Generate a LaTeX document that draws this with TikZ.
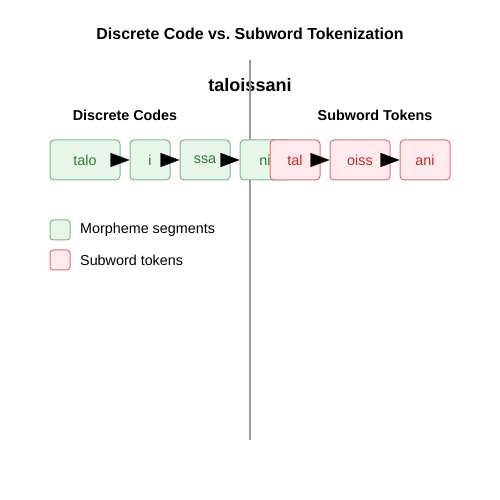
\documentclass[tikz,border=0pt]{standalone}
\usepackage{fontspec}
\setmainfont{Liberation Sans}
\usetikzlibrary{arrows.meta}
\definecolor{segtext}{HTML}{2E7D32}
\definecolor{segfill}{HTML}{E8F5E9}
\definecolor{segdraw}{HTML}{81B882}
\definecolor{toktext}{HTML}{C62828}
\definecolor{tokfill}{HTML}{FFEBEE}
\definecolor{tokdraw}{HTML}{E07070}
\frenchspacing
\begin{document}
\begin{tikzpicture}[>={Triangle[length=19bp,width=14bp]},line join=bevel,
  seg/.style={draw=segdraw,fill=segfill,text=segtext,rounded corners=4bp,line width=1bp,minimum height=40bp,inner sep=0pt,font=\fontsize{14.4}{17}\selectfont},
  tok/.style={draw=tokdraw,fill=tokfill,text=toktext,rounded corners=4bp,line width=1bp,minimum height=40bp,inner sep=0pt,font=\fontsize{14.4}{17}\selectfont},
  key/.style={rounded corners=3bp,line width=1bp,minimum width=20bp,minimum height=20bp,inner sep=0pt},
  lbl/.style={font=\fontsize{14.4}{17}\selectfont},
]
%%
\useasboundingbox (0bp,0bp) rectangle (500bp,500bp);
\node (title) at (250bp,466bp) {\fontsize{16}{19}\selectfont\bfseries Discrete Code vs. Subword Tokenization};
  \node (word) at (250bp,415bp) {\fontsize{18.1}{22}\selectfont\bfseries taloissani};
  \node (head_codes) at (125bp,385bp) {\fontsize{14.4}{17}\selectfont\bfseries Discrete Codes};
  \node (head_tokens) at (375bp,385bp) {\fontsize{14.4}{17}\selectfont\bfseries Subword Tokens};
%
\coordinate (sep_top) at (250bp,440bp);
  \coordinate (sep_bot) at (250bp,60bp);
  \draw [color=black!40,line width=1.5bp] (sep_top) -- (sep_bot);
%
\node (seg_talo) at (85bp,340bp) [seg,minimum width=70bp] {talo};
  \node (seg_i) at (150bp,340bp) [seg,minimum width=40bp] {i};
  \node (seg_ssa) at (205bp,340bp) [seg,minimum width=50bp] {ssa};
  \node (seg_ni) at (265bp,340bp) [seg,minimum width=50bp] {ni};
  \draw [black,->] (seg_talo) -- (seg_i);
  \draw [black,->] (seg_i) -- (seg_ssa);
  \draw [black,->] (seg_ssa) -- (seg_ni);
%
\node (tok_tal) at (295bp,340bp) [tok,minimum width=50bp] {tal};
  \node (tok_oiss) at (360bp,340bp) [tok,minimum width=60bp] {oiss};
  \node (tok_ani) at (425bp,340bp) [tok,minimum width=50bp] {ani};
  \draw [black,->] (tok_tal) -- (tok_oiss);
  \draw [black,->] (tok_oiss) -- (tok_ani);
%
\node (key_seg) at (60bp,270bp) [key,draw=segdraw,fill=segfill] {};
  \node (key_tok) at (60bp,240bp) [key,draw=tokdraw,fill=tokfill] {};
  \node (key_seg_text) at (80bp,270bp) [lbl,anchor=west,inner sep=0pt] {Morpheme segments};
  \node (key_tok_text) at (80bp,240bp) [lbl,anchor=west,inner sep=0pt] {Subword tokens};
%
\end{tikzpicture}
\end{document}
